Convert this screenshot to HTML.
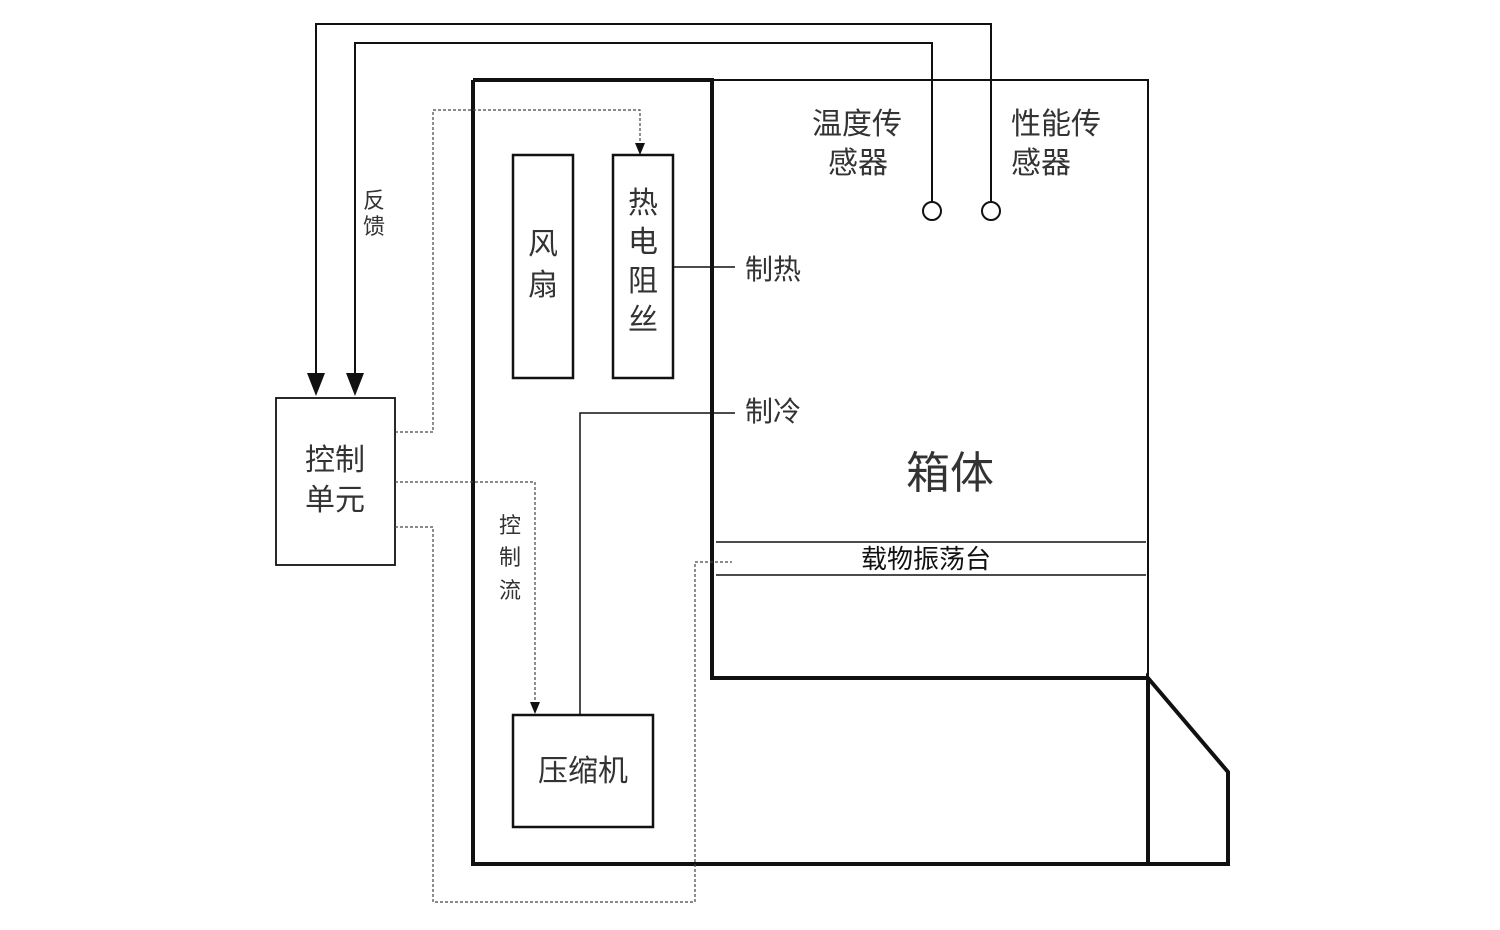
<!DOCTYPE html>
<html><head><meta charset="utf-8"><style>
html,body{margin:0;padding:0;background:#fff;}
svg text{font-family:"Liberation Sans","Noto Sans CJK SC",sans-serif;fill:#333;}
</style></head><body>
<svg width="1500" height="925" viewBox="0 0 1500 925" xmlns="http://www.w3.org/2000/svg">
<g fill="none" stroke="#111">
<path d="M473,80 H712 V678 H1148 M473,80 V864 H1228 V772 L1148,678 V864" stroke-width="4"/>
<path d="M712,80 H1148 V678" stroke-width="2"/>
<line x1="716" y1="542" x2="1146" y2="542" stroke-width="1.5"/>
<line x1="716" y1="575" x2="1146" y2="575" stroke-width="1.5"/>
<rect x="513" y="155" width="60" height="223" stroke-width="2.5"/>
<rect x="613" y="155" width="60" height="223" stroke-width="2.5"/>
<rect x="513" y="715" width="140" height="112" stroke-width="2.5"/>
<rect x="276" y="398" width="119" height="167" stroke-width="1.8"/>
<path d="M316,376 V24 H991 V202" stroke-width="2"/>
<path d="M355,376 V43 H932 V202" stroke-width="2"/>
<circle cx="932" cy="211" r="9" stroke-width="2"/>
<circle cx="991" cy="211" r="9" stroke-width="2"/>
<line x1="673" y1="267" x2="735" y2="267" stroke-width="1.5"/>
<path d="M735,413 H580 V715" stroke-width="1.5"/>
<g stroke-dasharray="3,2" stroke-width="1.2" stroke="#444">
<path d="M395,432 H433 V110 H640 V146"/>
<path d="M395,482 H535 V703"/>
<path d="M395,527 H433 V902 H695 V562 H732"/>
</g>
</g>
<g fill="#111">
<polygon points="307,373 325,373 316,396"/>
<polygon points="346,373 364,373 355,396"/>
<polygon points="635,143 645,143 640,155"/>
<polygon points="530,702 540,702 535,714"/>
</g>
<g font-size="30">
<text x="543" y="254" text-anchor="middle">风</text>
<text x="543" y="295" text-anchor="middle">扇</text>
<text x="643" y="213" text-anchor="middle">热</text>
<text x="643" y="252" text-anchor="middle">电</text>
<text x="643" y="291" text-anchor="middle">阻</text>
<text x="643" y="330" text-anchor="middle">丝</text>
<text x="583" y="781" text-anchor="middle">压缩机</text>
<text x="335" y="470" text-anchor="middle">控制</text>
<text x="335" y="510" text-anchor="middle">单元</text>
<text x="812" y="134">温度传</text>
<text x="828" y="173">感器</text>
<text x="1011" y="134">性能传</text>
<text x="1011" y="173">感器</text>
</g>
<g font-size="28">
<text x="745" y="279">制热</text>
<text x="745" y="421">制冷</text>
</g>
<text x="950" y="488" font-size="44" text-anchor="middle">箱体</text>
<text x="926" y="568" font-size="26" text-anchor="middle" style="fill:#111">载物振荡台</text>
<g font-size="22" text-anchor="middle">
<text x="374" y="208">反</text><text x="374" y="234">馈</text>
<text x="510" y="533">控</text><text x="510" y="565">制</text><text x="510" y="598">流</text>
</g>
</svg>
</body></html>
